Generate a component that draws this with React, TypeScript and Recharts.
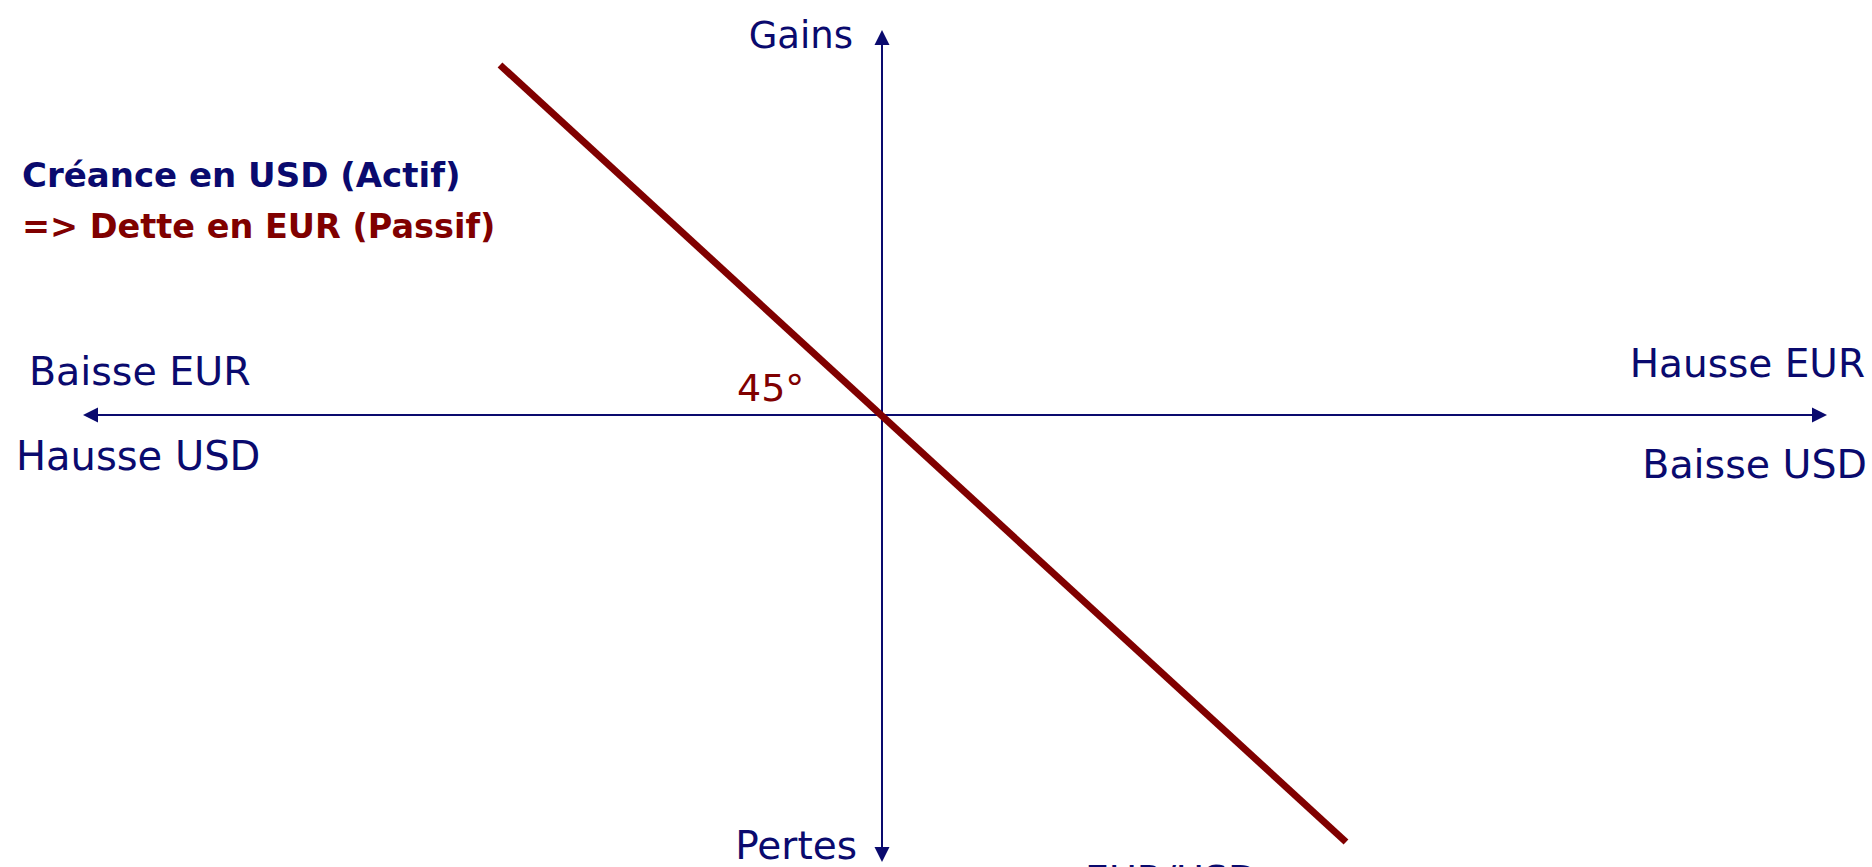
import React from "react";
import { LineChart, Line, XAxis, YAxis, ReferenceLine, ReferenceDot } from "recharts";

// Exposure line (gain/loss vs. EUR move)
const exposureX = [-3.82, 4.64];
const exposureY = [3.5, -4.27];

// Axis extents (data units)
const xAxisRange = [-7.99, 9.45];
const yAxisRange = [3.85, -4.47];

// Texts
const titleLines = ["Créance en USD (Actif)", "=> Dette en EUR (Passif)"];
const leftLabels = ["Baisse EUR", "Hausse USD"];
const rightLabels = ["Hausse EUR", "Baisse USD"];
const verticalLabels = ["Gains", "Pertes"];
const angleLabel = "45°";
const bottomLabel = "EUR/USD";

const data = exposureX.map((x, i) => ({ x, y: exposureY[i] }));

const NAVY = "#0a0a6e";
const MAROON = "#800000";
const FONT = "'Comic Sans MS', 'DejaVu Sans', sans-serif";

const ArrowLine = (props: any) => {
  const { x1, y1, x2, y2 } = props;
  const dx = x2 - x1;
  const dy = y2 - y1;
  const len = Math.sqrt(dx * dx + dy * dy) || 1;
  const ux = dx / len;
  const uy = dy / len;
  const L = 15;
  const W = 7.5;
  const head = (tx: number, ty: number, dirx: number, diry: number) => {
    const bx = tx - dirx * L;
    const by = ty - diry * L;
    const px = -diry * W;
    const py = dirx * W;
    return `${tx},${ty} ${bx + px},${by + py} ${bx - px},${by - py}`;
  };
  return (
    <g>
      <line
        x1={x1 + ux * 10}
        y1={y1 + uy * 10}
        x2={x2 - ux * 10}
        y2={y2 - uy * 10}
        stroke={NAVY}
        strokeWidth={2}
      />
      <polygon points={head(x2, y2, ux, uy)} fill={NAVY} />
      <polygon points={head(x1, y1, -ux, -uy)} fill={NAVY} />
    </g>
  );
};

const makeText =
  (text: string, anchor: string, color: string, size: number, weight: string = "normal") =>
  (props: any) =>
    (
      <text
        x={props.cx}
        y={props.cy}
        textAnchor={anchor as any}
        fill={color}
        fontSize={size}
        fontWeight={weight}
        fontFamily={FONT}
      >
        {text}
      </text>
    );

export default function App() {
  const labels: { x: number; y: number; shape: any }[] = [
    { x: -0.29, y: 3.67, shape: makeText(verticalLabels[0], "end", NAVY, 37) },
    { x: -0.25, y: -4.44, shape: makeText(verticalLabels[1], "end", NAVY, 39) },
    { x: -8.53, y: 0.3, shape: makeText(leftLabels[0], "start", NAVY, 39.5) },
    { x: -8.66, y: -0.55, shape: makeText(leftLabels[1], "start", NAVY, 40) },
    { x: 9.83, y: 0.38, shape: makeText(rightLabels[0], "end", NAVY, 39) },
    { x: 9.85, y: -0.63, shape: makeText(rightLabels[1], "end", NAVY, 39.5) },
    { x: -1.45, y: 0.14, shape: makeText(angleLabel, "start", MAROON, 38) },
    { x: -8.6, y: 2.28, shape: makeText(titleLines[0], "start", NAVY, 34, "bold") },
    { x: -8.6, y: 1.77, shape: makeText(titleLines[1], "start", MAROON, 33.5, "bold") },
    { x: 2.03, y: -4.77, shape: makeText(bottomLabel, "start", NAVY, 38) },
  ];
  return (
    <div style={{ width: 1872, height: 867, background: "#fff", overflow: "hidden" }}>
      <style>{"html,body{margin:0;padding:0;overflow:hidden;background:#fff}"}</style>
      <LineChart width={1872} height={867} data={data} margin={{ top: 0, right: 0, bottom: 0, left: 0 }}>
        <XAxis dataKey="x" type="number" domain={[-8.82, 9.9]} allowDataOverflow hide />
        <YAxis type="number" domain={[-4.52, 4.15]} allowDataOverflow hide />
        <ReferenceLine
          segment={[
            { x: xAxisRange[0], y: 0 },
            { x: xAxisRange[1], y: 0 },
          ]}
          ifOverflow="visible"
          shape={ArrowLine}
        />
        <ReferenceLine
          segment={[
            { x: 0, y: yAxisRange[1] },
            { x: 0, y: yAxisRange[0] },
          ]}
          ifOverflow="visible"
          shape={ArrowLine}
        />
        <Line
          dataKey="y"
          stroke={MAROON}
          strokeWidth={7}
          dot={false}
          activeDot={false}
          isAnimationActive={false}
        />
        {labels.map((l, i) => (
          <ReferenceDot key={i} x={l.x} y={l.y} r={0} ifOverflow="visible" shape={l.shape} />
        ))}
      </LineChart>
    </div>
  );
}
